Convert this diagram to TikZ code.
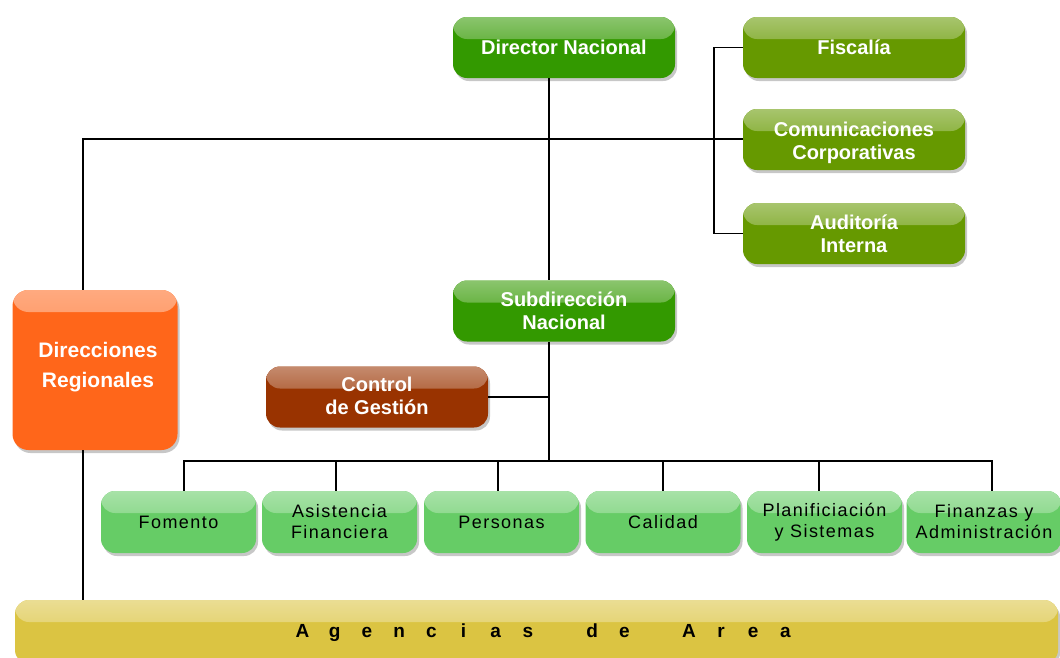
\documentclass[tikz,border=0pt]{standalone}
\usepackage{fontspec}
\setmainfont{Liberation Sans}
\newfontfamily\pixfont[LetterSpace=8]{Liberation Sans}
\usetikzlibrary{shadows}
\definecolor{gmain}{HTML}{339900}
\definecolor{golive}{HTML}{669900}
\definecolor{gbrown}{HTML}{993300}
\definecolor{gorange}{HTML}{FF661A}
\definecolor{glight}{HTML}{66CC66}
\definecolor{ggold}{HTML}{DBC442}
\newcommand\agl[1]{\makebox[32.2pt]{#1}}
\newcommand\shiftdown[2]{\raisebox{0pt}[\dimexpr\height+#1+#1\relax][\depth]{\begin{tabular}{@{}c@{}}#2\end{tabular}}}
\newcommand\shiftup[2]{\raisebox{0pt}[\height][\dimexpr\depth+#1+#1\relax]{\begin{tabular}{@{}c@{}}#2\end{tabular}}}
\begin{document}
\begin{tikzpicture}[x=1pt,y=-1pt,
  box/.style={rounded corners=14pt, fill=#1, inner sep=0pt, align=center,
    drop shadow={shadow xshift=2pt, shadow yshift=-3pt, opacity=0.22, fill=black},
    path picture={\shade[top color=white!45!#1, bottom color=#1]
      ([yshift=3pt]path picture bounding box.north west) rectangle
      ([yshift=-22pt]path picture bounding box.north east);}},
  topbox/.style={box=#1, minimum width=222pt, minimum height=61pt, text=white,
    font=\fontsize{20}{23}\selectfont\bfseries},
  lowbox/.style={box=glight, minimum width=155pt, minimum height=62pt, text=black,
    font=\pixfont\fontsize{18}{21}\selectfont},
  conn/.style={draw=black, line width=1.5pt}]
\useasboundingbox (0,0) rectangle (1060,657);
\begin{scope}
\clip (0,0) rectangle (1060,657);
% nodes
\node[topbox=gmain] (dir) at (564,47.5) {Director Nacional};
\node[topbox=golive] (fis) at (854,47.5) {Fiscalía};
\node[topbox=golive] (com) at (854,139.5) {\shiftdown{4pt}{Comunicaciones\\Corporativas}};
\node[topbox=golive] (aud) at (854,233.5) {\shiftdown{3pt}{Auditoría\\Interna}};
\node[topbox=gmain] (sub) at (564,311) {Subdirección\\Nacional};
\node[topbox=gbrown] (ctl) at (377,397) {\shiftdown{1pt}{Control\\de Gestión}};
\node[box=gorange, minimum width=165pt, minimum height=160pt, rounded corners=16pt,
  text=white, font=\fontsize{21}{30}\selectfont\bfseries] (reg) at (95,370)
  {\shiftup{4pt}{\hspace*{6pt}Direcciones\\\hspace*{6pt}Regionales}};
\node[lowbox] (fom) at (178.5,522) {Fomento};
\node[lowbox] (asi) at (339.5,522) {Asistencia\\Financiera};
\node[lowbox] (per) at (501.5,522) {Personas};
\node[lowbox] (cal) at (663,522) {Calidad};
\node[lowbox] (pla) at (824.5,522) {Planificiación\\y Sistemas};
\node[lowbox] (fin) at (984,522) {Finanzas y\\Administración};
\node[box=ggold, minimum width=1043pt, minimum height=64pt, rounded corners=14pt] (age) at (536.5,632) {};
\node[font=\fontsize{19}{22}\selectfont\bfseries, text=black] (agt) at (544,633)
  {\agl{A}\agl{g}\agl{e}\agl{n}\agl{c}\agl{i}\agl{a}\agl{s}\agl{}\agl{d}\agl{e}\agl{}\agl{A}\agl{r}\agl{e}\agl{a}};
% connectors
\coordinate (j1) at (549,139);
\coordinate (j2) at (714,139);
\coordinate (bus) at (549,461);
\draw[conn] ([xshift=-15pt]dir.south) -- ([xshift=-15pt]sub.north);
\draw[conn] ([xshift=-12pt]reg.north) |- (j1) -- (j1 -| com.west);
\draw[conn] (fis.west) -| (j2) |- (aud.west);
\draw[conn] ([xshift=-15pt]sub.south) -- (bus);
\draw[conn] (ctl.east) -- (ctl.east -| bus);
\draw[conn] ([xshift=5.5pt]fom.north) |- ([xshift=8pt]fin.north |- bus) -- ([xshift=8pt]fin.north);
\draw[conn] ([xshift=-3.5pt]asi.north) -- ([xshift=-3.5pt]asi.north |- bus);
\draw[conn] ([xshift=-3.5pt]per.north) -- ([xshift=-3.5pt]per.north |- bus);
\draw[conn] (cal.north) -- (cal.north |- bus);
\draw[conn] ([xshift=-5.5pt]pla.north) -- ([xshift=-5.5pt]pla.north |- bus);
\draw[conn] ([xshift=-12pt]reg.south) -- ([xshift=-12pt]reg.south |- age.north);
\end{scope}
\end{tikzpicture}
\end{document}
